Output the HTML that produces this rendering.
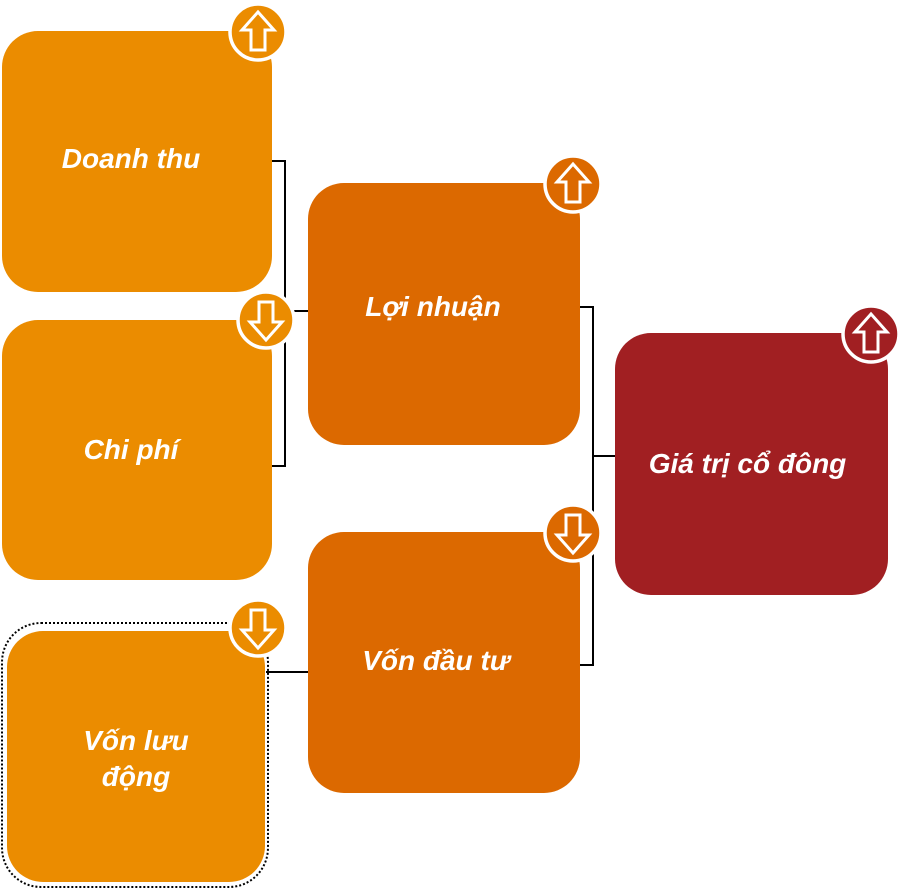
<!DOCTYPE html>
<html><head><meta charset="utf-8"><style>
body{margin:0;width:903px;height:890px;background:#fff;position:relative;overflow:hidden;font-family:"Liberation Sans",sans-serif}
.b{position:absolute;border-radius:36px;color:#fff;font-weight:bold;font-style:italic;font-size:28px;display:flex;align-items:center;justify-content:center;text-align:center;line-height:36px;box-sizing:border-box}
.l{background:#eb8c00}.d{background:#dc6900}.r{background:#a11f22}
.ln{position:absolute;background:#000}
</style></head><body>
<div class="ln" style="left:272px;top:160px;width:14px;height:2px"></div>
<div class="ln" style="left:272px;top:465px;width:14px;height:2px"></div>
<div class="ln" style="left:284px;top:160px;width:2px;height:307px"></div>
<div class="ln" style="left:284px;top:310px;width:24px;height:2px"></div>
<div class="ln" style="left:580px;top:306px;width:14px;height:2px"></div>
<div class="ln" style="left:580px;top:664px;width:14px;height:2px"></div>
<div class="ln" style="left:592px;top:306px;width:2px;height:360px"></div>
<div class="ln" style="left:592px;top:455px;width:23px;height:2px"></div>
<div class="ln" style="left:266px;top:671px;width:42px;height:2px"></div>
<div style="position:absolute;left:1px;top:622px;width:268px;height:266px;border:2px dotted #000;box-sizing:border-box;border-radius:40px"></div>
<div class="b l" style="left:2px;top:31px;width:270px;height:261px;padding:0 12px 6px 0">Doanh thu</div>
<div class="b l" style="left:2px;top:320px;width:270px;height:260px;padding:0 12px 0 0">Chi phí</div>
<div class="b l" style="left:7px;top:631px;width:258px;height:251px;padding:4px 0 0 0">Vốn lưu<br>động</div>
<div class="b d" style="left:308px;top:183px;width:272px;height:262px;padding:0 22px 14px 0">Lợi nhuận</div>
<div class="b d" style="left:308px;top:532px;width:272px;height:261px;padding:0 16px 4px 0">Vốn đầu tư</div>
<div class="b r" style="left:615px;top:333px;width:273px;height:262px;padding:0 8px 0 0">Giá trị cổ đông</div>
<svg width="903" height="890" style="position:absolute;left:0;top:0">
<defs>
<g id="u"><circle r="28" fill="currentColor" stroke="#fff" stroke-width="3.5"/><path d="M0,-20 L16,-2 L7,-2 L7,18 L-7,18 L-7,-2 L-16,-2 Z" fill="none" stroke="#fff" stroke-width="3"/></g>
<g id="dn"><circle r="28" fill="currentColor" stroke="#fff" stroke-width="3.5"/><path d="M0,20 L16,2 L7,2 L7,-18 L-7,-18 L-7,2 L-16,2 Z" fill="none" stroke="#fff" stroke-width="3"/></g>
</defs>
<use href="#u" x="258" y="32" style="color:#eb8c00"/>
<use href="#dn" x="266" y="320" style="color:#eb8c00"/>
<use href="#dn" x="258" y="628" style="color:#eb8c00"/>
<use href="#u" x="573" y="184" style="color:#dc6900"/>
<use href="#dn" x="573" y="533" style="color:#dc6900"/>
<use href="#u" x="871" y="334" style="color:#a11f22"/>
</svg>
</body></html>
